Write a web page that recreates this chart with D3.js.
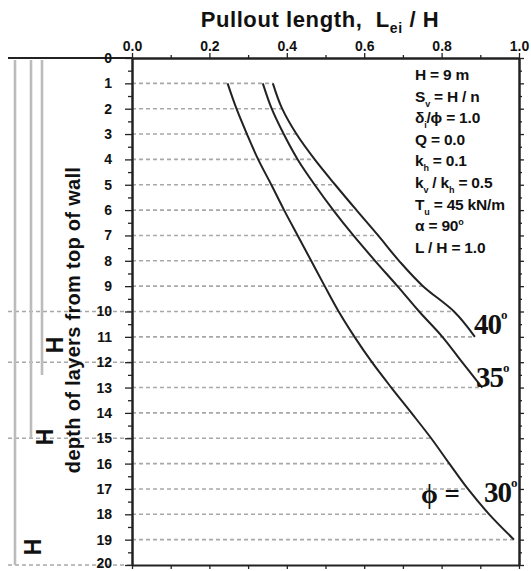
<!DOCTYPE html>
<html><head><meta charset="utf-8">
<script src="https://cdn.jsdelivr.net/npm/d3@7"></script>
<style>
body{margin:0;background:#fff}
text{font-family:"Liberation Sans",Arial,sans-serif;font-weight:bold;fill:#111}
</style>
</head><body>
<svg id="c" width="531" height="571"></svg>
<script>
// ---- data ----
const depth30 = [1,2,3,4,5,6,7,8,9,10,11,12,13,14,15,16,17,18,19];
const lei30   = [0.247,0.270,0.297,0.326,0.360,0.393,0.428,0.463,0.498,0.534,0.575,0.620,0.670,0.722,0.773,0.820,0.868,0.923,0.987];
const depth35 = [1,2,3,4,5,6,7,8,9,10,11,12,13];
const lei35   = [0.338,0.361,0.392,0.428,0.472,0.520,0.572,0.628,0.686,0.742,0.802,0.853,0.905];
const depth40 = [1,2,3,4,5,6,7,8,9,10,11];
const lei40   = [0.364,0.388,0.425,0.472,0.525,0.580,0.636,0.690,0.752,0.832,0.886];
const seriesNames = ["30","35","40"];
const xTicks = [0,0.2,0.4,0.6,0.8,1.0];
const xMinorTicks = [0.1,0.3,0.5,0.7,0.9];
const yTicks = d3.range(0,21);
const yMinorTicks = d3.range(0.5,20,1);
const gridDepths = d3.range(1,20);
const extendedDepths = [10,12,15,20];
const wallDepths = [20,15,12.5];
const params = [
  [["H = 9 m"]],
  [["S"],["v","sub"],[" = H / n"]],
  [["δ"],["i","sub"],["/ϕ = 1.0"]],
  [["Q = 0.0"]],
  [["k"],["h","sub"],[" = 0.1"]],
  [["k"],["v","sub"],[" / k"],["h","sub"],[" = 0.5"]],
  [["T"],["u","sub"],[" = 45 kN/m"]],
  [["α = 90"],["o","sup"]],
  [["L / H = 1.0"]]
];

// ---- layout ----
const svg = d3.select("#c");
const x = d3.scaleLinear().domain([0,1]).range([132,519]);
const y = d3.scaleLinear().domain([0,20]).range([58,565]);
const series = [
  {name:"30", d:depth30, v:lei30},
  {name:"35", d:depth35, v:lei35},
  {name:"40", d:depth40, v:lei40}
];
function maxAt(dep){
  let m = null;
  series.forEach(s=>{const i=s.d.indexOf(dep); if(i>=0) m = m===null? s.v[i] : Math.max(m,s.v[i]);});
  return m;
}

// grid lines (dashed)
const dashStyle = g => g.attr("stroke","#a8a8a8").attr("stroke-width",1.6).attr("stroke-dasharray","4,3");
svg.append("g").selectAll("line").data(gridDepths).join("line")
  .attr("x1",x(0)).attr("x2",d=>x(maxAt(d)))
  .attr("y1",d=>y(d)).attr("y2",d=>y(d)).call(dashStyle);
svg.append("g").selectAll("line").data(extendedDepths).join("line")
  .attr("x1",8).attr("x2",x(0))
  .attr("y1",d=>y(d)).attr("y2",d=>y(d)).call(dashStyle);

// wall height lines (gray)
const wallX = [15,31,42];
svg.append("g").selectAll("line").data(wallDepths).join("line")
  .attr("x1",(d,i)=>wallX[i]).attr("x2",(d,i)=>wallX[i])
  .attr("y1",y(0)+2).attr("y2",d=>y(d))
  .attr("stroke","#bcbcbc").attr("stroke-width",2.6);
const hPos = [[33,547],[45,437],[55,345]];
svg.append("g").selectAll("text").data(wallDepths).join("text")
  .attr("transform",(d,i)=>`translate(${hPos[i][0]+8},${hPos[i][1]}) rotate(-90)`)
  .attr("text-anchor","middle").attr("font-size",23).text("H");

// axes
svg.append("line").attr("x1",8).attr("x2",x(0)).attr("y1",y(0)).attr("y2",y(0))
  .attr("stroke","#222").attr("stroke-width",2);
function styleAxis(g){
  g.select(".domain").attr("stroke","#222").attr("stroke-width",2);
  g.selectAll(".tick line").attr("stroke","#222").attr("stroke-width",1.3);
  g.selectAll("text").attr("font-size",14).attr("font-family",null).attr("fill","#111");
}
svg.append("g").attr("transform",`translate(0,${y(0)})`)
  .call(d3.axisTop(x).tickValues(xTicks).tickFormat(d3.format(".1f")).tickSize(5).tickPadding(2).tickSizeOuter(0))
  .call(styleAxis);
svg.append("g").attr("transform",`translate(0,${y(0)})`)
  .call(d3.axisTop(x).tickValues(xMinorTicks).tickFormat("").tickSize(3).tickSizeOuter(0))
  .call(styleAxis);
svg.append("g").attr("transform",`translate(0,${y(20)})`)
  .call(d3.axisBottom(x).tickValues(xTicks.concat(xMinorTicks)).tickFormat("").tickSize(4).tickSizeOuter(0))
  .call(styleAxis);
const yl = svg.append("g").attr("transform",`translate(${x(0)},0)`)
  .call(d3.axisLeft(y).tickValues(yTicks).tickFormat(d3.format("d")).tickSize(7).tickPadding(13).tickSizeOuter(0))
  .call(styleAxis);
yl.selectAll(".tick text").filter(d=>d===20).attr("dy","0.2em");
svg.append("g").attr("transform",`translate(${x(0)},0)`)
  .call(d3.axisLeft(y).tickValues(yMinorTicks).tickFormat("").tickSize(4).tickSizeOuter(0))
  .call(styleAxis);
svg.append("g").attr("transform",`translate(${x(1)},0)`)
  .call(d3.axisRight(y).tickValues(yTicks).tickFormat("").tickSize(5).tickSizeOuter(0))
  .call(styleAxis);
svg.append("g").attr("transform",`translate(${x(1)},0)`)
  .call(d3.axisRight(y).tickValues(yMinorTicks).tickFormat("").tickSize(3).tickSizeOuter(0))
  .call(styleAxis);

// curves
const line = d3.line().x(p=>x(p[1])).y(p=>y(p[0])).curve(d3.curveMonotoneY);
svg.append("g").selectAll("path").data(series).join("path")
  .attr("d",s=>line(s.d.map((d,i)=>[d,s.v[i]])))
  .attr("fill","none").attr("stroke","#222").attr("stroke-width",2);

// curve labels
const serif = "'Liberation Serif','Times New Roman',serif";
const labPos = {"40":[474,334],"35":[476,387],"30":[484,502]};
const cl = svg.append("g").selectAll("text").data(seriesNames).join("text")
  .attr("x",d=>labPos[d][0]).attr("y",d=>labPos[d][1])
  .style("font-family",serif).attr("font-size",29).attr("letter-spacing",-1);
cl.append("tspan").text(d=>d);
cl.append("tspan").text("o").attr("font-size",13).attr("dy",-15);
svg.append("text").attr("x",421).attr("y",503)
  .style("font-family",serif).attr("font-size",27).text("ϕ =");

// parameter block
const pb = svg.append("g");
params.forEach((ln,i)=>{
  const t = pb.append("text").attr("x",415).attr("y",80+i*21.6).attr("font-size",15.5)
    .attr("letter-spacing",-0.2).style("white-space","pre");
  let shift = 0;
  ln.forEach(seg=>{
    const ts = t.append("tspan").text(seg[0]);
    let target = seg[1]==="sub"?5: seg[1]==="sup"?-6:0;
    if(seg[1]) ts.attr("font-size",9);
    ts.attr("dy",target-shift); shift=target;
  });
});

// titles
const tt = svg.append("text").attr("x",320).attr("y",27).attr("text-anchor","middle")
  .attr("font-size",22).attr("letter-spacing",0.6).style("white-space","pre");
tt.append("tspan").text("Pullout length,  L");
tt.append("tspan").text("ei").attr("font-size",14).attr("dy",6);
tt.append("tspan").text(" / H").attr("dy",-6);
svg.append("text").attr("transform","translate(80,320) rotate(-90)")
  .attr("text-anchor","middle").attr("font-size",20).attr("letter-spacing",0.3)
  .text("depth of layers from top of wall");
</script>
</body></html>
